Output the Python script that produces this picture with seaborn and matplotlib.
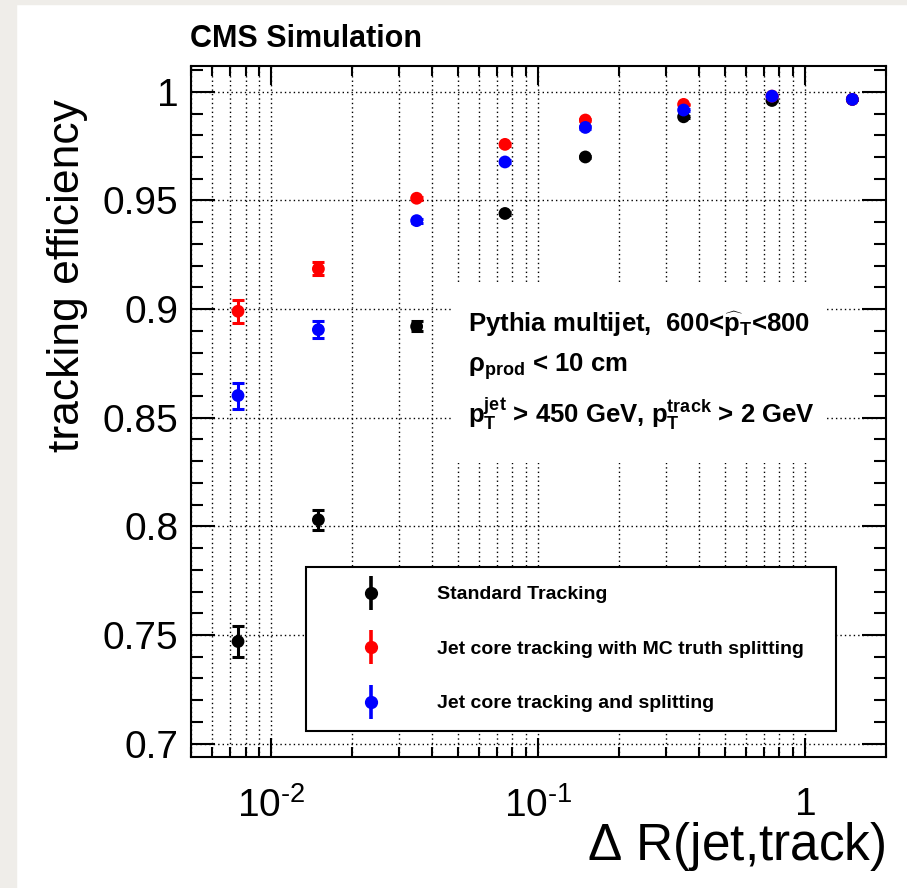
import numpy as np
import pandas as pd
import matplotlib
matplotlib.use("Agg")
import matplotlib.pyplot as plt
import seaborn as sns
from matplotlib.lines import Line2D
from matplotlib.patches import Rectangle
from matplotlib.ticker import LogLocator, MultipleLocator, FuncFormatter, NullFormatter

# Tracking efficiency vs Delta R(jet, track)
delta_r = [0.0075, 0.015, 0.035, 0.075, 0.15, 0.35, 0.75, 1.5]

eff_standard = [0.747, 0.803, 0.892, 0.944, 0.970, 0.9885, 0.996, 0.9965]
err_standard = [0.0073, 0.0046, 0.0023, 0.0008, 0.0006, 0.0005, 0.0004, 0.0004]

eff_mc_split = [0.899, 0.9185, 0.951, 0.9758, 0.987, 0.9942, 0.998, 0.9965]
err_mc_split = [0.0052, 0.003, 0.0008, 0.0006, 0.0005, 0.0004, 0.0003, 0.0003]

eff_split = [0.8602, 0.8905, 0.9407, 0.9677, 0.9836, 0.9916, 0.998, 0.9965]
err_split = [0.006, 0.0038, 0.0009, 0.0007, 0.0005, 0.0004, 0.0003, 0.0003]

series_names = ["Standard Tracking",
                "Jet core tracking with MC truth splitting",
                "Jet core tracking and splitting"]
series_colors = ["#000000", "#ff0000", "#0000ff"]

# long-form table for seaborn
df = pd.concat([
    pd.DataFrame({"dr": delta_r, "eff": eff_standard, "err": err_standard, "algo": series_names[0]}),
    pd.DataFrame({"dr": delta_r, "eff": eff_mc_split, "err": err_mc_split, "algo": series_names[1]}),
    pd.DataFrame({"dr": delta_r, "eff": eff_split, "err": err_split, "algo": series_names[2]}),
], ignore_index=True)

sns.set_style("ticks")
plt.rcParams["font.family"] = ["Liberation Sans", "DejaVu Sans"]
plt.rcParams["mathtext.fontset"] = "custom"
plt.rcParams["mathtext.rm"] = "Liberation Sans"
plt.rcParams["mathtext.it"] = "Liberation Sans:italic"
plt.rcParams["mathtext.bf"] = "Liberation Sans:bold"
for key in ["text.color", "axes.labelcolor", "xtick.color", "ytick.color", "axes.edgecolor"]:
    plt.rcParams[key] = "black"

fig = plt.figure(figsize=(9.07, 8.88), dpi=100)
fig.patch.set_facecolor("white")
# light paper strip on the left / top edge of the screenshot
fig.patches.append(Rectangle((0, 0), 16 / 907, 1, transform=fig.transFigure,
                             color="#efede9", zorder=-10))
fig.patches.append(Rectangle((0, 1 - 4 / 888), 1, 4 / 888, transform=fig.transFigure,
                             color="#efede9", zorder=-10))

ax = fig.add_axes([0.2106, 0.1479, 0.7659, 0.7781])
ax.set_xscale("log")
ax.set_xlim(0.005, 2)
ax.set_ylim(0.694, 1.012)

# error bars then markers
for name, col in zip(series_names, series_colors):
    sub = df[df["algo"] == name]
    ax.errorbar(sub["dr"], sub["eff"], yerr=sub["err"], fmt="none", ecolor=col,
                elinewidth=2.2, capsize=4, capthick=2.2, zorder=3)
sns.scatterplot(data=df, x="dr", y="eff", hue="algo", hue_order=series_names,
                palette=series_colors, s=85, linewidth=0, legend=False, ax=ax, zorder=4)

# grid
ax.set_axisbelow(True)
ax.grid(True, which="both", axis="x", color="black", linestyle=(0, (1, 2.2)), linewidth=1)
ax.grid(True, which="major", axis="y", color="black", linestyle=(0, (1, 2.2)), linewidth=1)

# ticks
ax.xaxis.set_major_locator(LogLocator(base=10))
ax.xaxis.set_minor_locator(LogLocator(base=10, subs=np.arange(2, 10)))
ax.xaxis.set_minor_formatter(NullFormatter())
ax.xaxis.set_major_formatter(FuncFormatter(
    lambda v, p: "1" if abs(v - 1) < 1e-9 else "$10^{\u2010%d}$" % abs(int(round(np.log10(v))))))
ax.yaxis.set_major_locator(MultipleLocator(0.05))
ax.yaxis.set_minor_locator(MultipleLocator(0.01))
ax.yaxis.set_major_formatter(FuncFormatter(lambda v, p: "%g" % round(v, 3)))

ax.tick_params(which="both", direction="in", top=True, right=True, width=1.5,
               color="black", labelcolor="black", labelsize=28)
ax.tick_params(axis="y", which="major", length=17, pad=9)
ax.tick_params(axis="y", which="minor", length=8.5)
ax.tick_params(axis="x", which="major", length=13.5, pad=22)
ax.tick_params(axis="x", which="minor", length=7)
for sp in ax.spines.values():
    sp.set_linewidth(1.5)
    sp.set_color("black")
    sp.set_visible(True)

ax.set_ylabel("tracking efficiency", fontsize=32)
ax.yaxis.set_label_coords(-0.148, 0.697)
ax.set_xlabel(r"$\Delta$ R(jet,track)", fontsize=37, ha="right", va="baseline")
ax.xaxis.set_label_coords(1.0, -0.1495)

# white pad behind the selection text
ax.add_patch(Rectangle((0.377, 0.425), 0.5385, 0.259, transform=ax.transAxes,
                       facecolor="white", edgecolor="none", zorder=1))
ax.text(0.3987, 0.615, r"Pythia multijet,  600<$\widehat{\mathbf{p}}_{\mathbf{T}}$<800",
        transform=ax.transAxes, fontsize=18.5, fontweight="bold", va="baseline", zorder=5)
ax.text(0.3987, 0.557, r"ρ$_{\mathbf{prod}}$ < 10 cm",
        transform=ax.transAxes, fontsize=18.5, fontweight="bold", va="baseline", zorder=5)
ax.text(0.3987, 0.483,
        r"$\mathbf{p}_{\mathbf{T}}^{\mathbf{jet}}$ > 450 GeV, $\mathbf{p}_{\mathbf{T}}^{\mathbf{track}}$ > 2 GeV",
        transform=ax.transAxes, fontsize=18.5, fontweight="bold", va="baseline", zorder=5)

# legend with error-bar style glyphs
handles = [(Line2D([], [], color=c, marker="|", markersize=24, markeredgewidth=2.6, linestyle="none"),
            Line2D([], [], color=c, marker="o", markersize=8.5, linestyle="none"))
           for c in series_colors]
leg = ax.legend(handles, series_names, loc="lower left",
                bbox_to_anchor=(0.1655, 0.0372, 0.763, 0.2446), mode="expand",
                borderaxespad=0, fancybox=False, framealpha=1, edgecolor="black",
                prop={"size": 14, "weight": "bold"}, handlelength=4.8, handletextpad=1.0,
                borderpad=0.95, labelspacing=1.9)
leg.get_frame().set_linewidth(1.5)
leg.set_zorder(6)
for t in leg.get_texts():
    t.set_color("black")

fig.text(190 / 907, 1 - 46.7 / 888, "CMS Simulation", fontsize=22, fontweight="bold",
         va="baseline", ha="left", color="black")

fig.savefig("out.png", dpi=100)
